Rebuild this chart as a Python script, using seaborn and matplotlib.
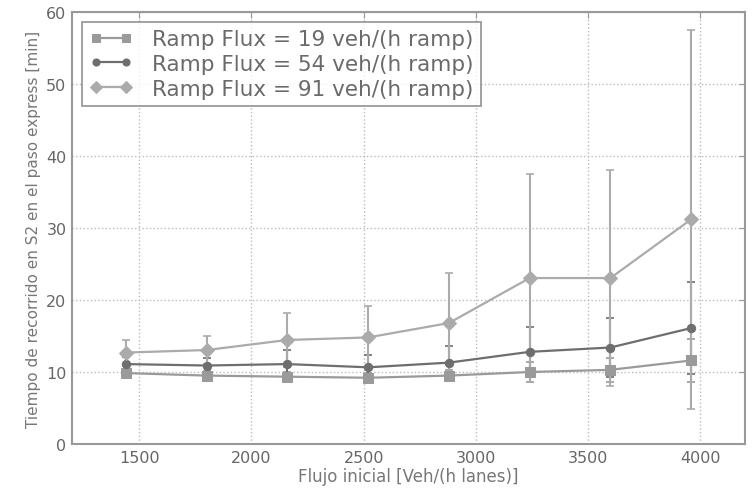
import matplotlib
matplotlib.use("Agg")
import matplotlib.pyplot as plt
import seaborn as sns
import pandas as pd

flujo = [1440, 1800, 2160, 2520, 2880, 3240, 3600, 3960]
labels = ["Ramp Flux = 19 veh/(h ramp)",
          "Ramp Flux = 54 veh/(h ramp)",
          "Ramp Flux = 91 veh/(h ramp)"]
t19 = [9.85, 9.5, 9.35, 9.2, 9.5, 10.0, 10.3, 11.6]
e19 = [0.6, 0.6, 0.6, 0.6, 0.8, 1.35, 1.7, 3.0]
t54 = [11.1, 10.9, 11.1, 10.65, 11.3, 12.8, 13.4, 16.1]
e54 = [1.0, 1.0, 1.9, 1.7, 2.3, 3.4, 4.1, 6.4]
t91 = [12.7, 13.05, 14.45, 14.8, 16.8, 23.05, 23.05, 31.2]
e91 = [1.7, 2.0, 3.7, 4.3, 7.0, 14.45, 15.05, 26.3]

sns.set_style("white")
plt.rcParams['font.family'] = ['DejaVu Sans']

fig = plt.figure(figsize=(7.53, 4.89), dpi=100)
ax = fig.add_axes([72/753, 44/489, (745-72)/753, (445-13)/489])

series = [(t19, e19, labels[0], "s", "#9a9a9a", 7),
          (t54, e54, labels[1], "o", "#6e6e6e", 6),
          (t91, e91, labels[2], "D", "#ababab", 7)]

for vals, errs, lab, mk, col, ms in series:
    df = pd.DataFrame({"x": flujo, "y": vals})
    ax.errorbar(flujo, vals, yerr=errs, fmt="none", ecolor=col, elinewidth=1.5,
                capsize=3, capthick=1.2, zorder=2)
    sns.lineplot(data=df, x="x", y="y", ax=ax, color=col, marker=mk,
                 markersize=ms, markeredgecolor=col, markerfacecolor=col,
                 linewidth=1.6, label=lab, zorder=3)

ax.set_xlim(1200, 4200)
ax.set_ylim(0, 60)
ax.set_xticks([1500, 2000, 2500, 3000, 3500, 4000])
ax.set_yticks([0, 10, 20, 30, 40, 50, 60])
ax.grid(True, color="#bbbbbb", linestyle=":", linewidth=1)
ax.tick_params(direction="in", top=True, right=True, length=4, color="#999999",
               labelcolor="#666666", labelsize=11.5, pad=4)
for sp in ax.spines.values():
    sp.set_color("#999999")
    sp.set_linewidth(1.5)

ax.set_xlabel("Flujo inicial [Veh/(h lanes)]", fontsize=12, color="#777777", labelpad=2)
ax.set_ylabel("Tiempo de recorrido en S2 en el paso express [min]", fontsize=11,
              color="#777777", labelpad=4)

leg = ax.legend(loc="upper left", numpoints=2, fontsize=15.5, fancybox=False,
                frameon=True, borderaxespad=0.45, handlelength=2.0, labelspacing=0.22,
                handletextpad=0.9, borderpad=0.35, markerscale=0.85)
leg.get_frame().set_edgecolor("#777777")
leg.get_frame().set_linewidth(1.2)
for t in leg.get_texts():
    t.set_color("#6a6a6a")

fig.savefig("out.png", dpi=100)
